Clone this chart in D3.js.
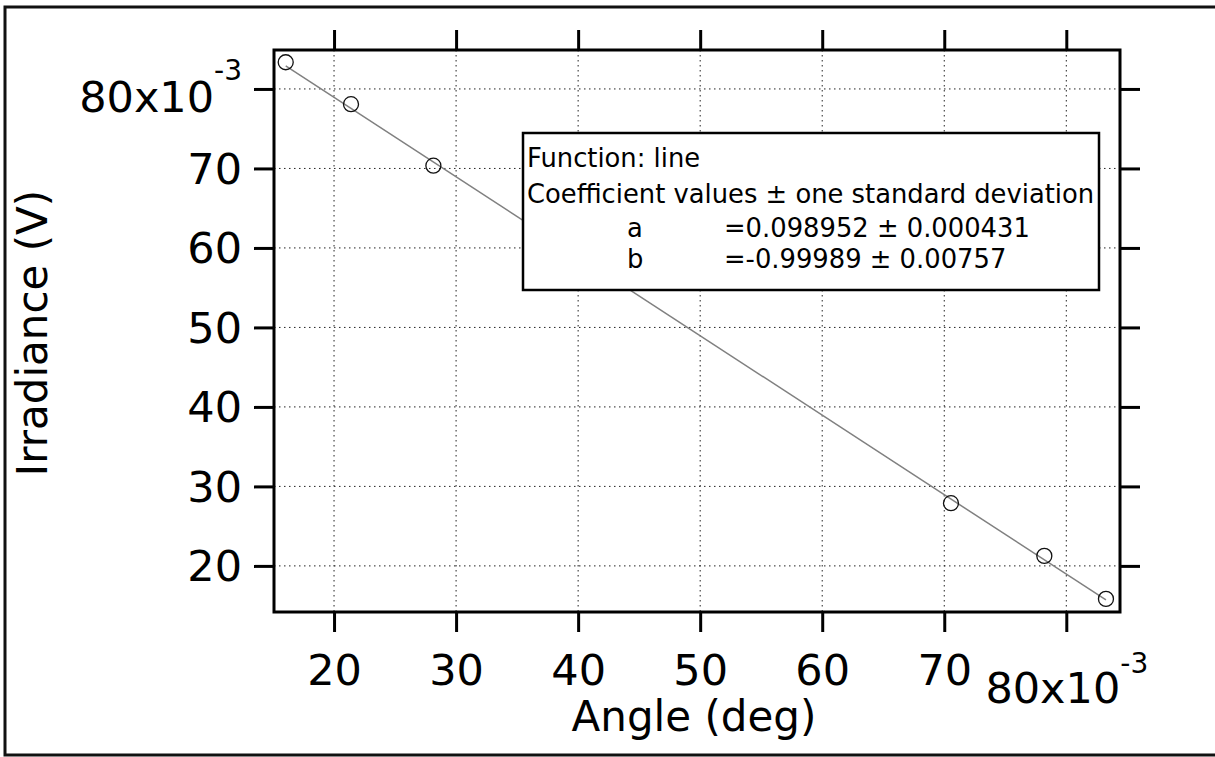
<!DOCTYPE html>
<html>
<head>
<meta charset="utf-8">
<script src="https://cdn.jsdelivr.net/npm/d3@7"></script>
<style>
  body { margin: 0; background: #fff; }
  svg { display: block; font-family: "DejaVu Sans", sans-serif; }
</style>
</head>
<body>
<div id="chart"></div>
<script>
// measured points (angle, irradiance), both in units of 1
const angle = [0.01604, 0.02139, 0.02814, 0.07055, 0.07820, 0.08325];
const irradiance = [0.08336, 0.07808, 0.07035, 0.02789, 0.02126, 0.01585];

// line fit coefficients shown in the box
const fitNames = ["a", "b"];
const fitValues = [0.098952, -0.99989];
const fitErrors = ["0.000431", "0.00757"];
const fitText = ["=0.098952", "=-0.99989"];

const xTicks = [0.02, 0.03, 0.04, 0.05, 0.06, 0.07, 0.08];
const yTicks = [0.02, 0.03, 0.04, 0.05, 0.06, 0.07, 0.08];

const width = 1215, height = 757;
const plot = { left: 274, right: 1120, top: 50, bottom: 612 };

const svg = d3.select("#chart").append("svg")
  .attr("width", width)
  .attr("height", height);

// outer frame (no right side)
svg.append("path")
  .attr("d", `M${width},7 H5 V755 H${width}`)
  .attr("fill", "none")
  .attr("stroke", "#111")
  .attr("stroke-width", 3);

const x = d3.scaleLinear()
  .domain([0.01508, 0.0844])
  .range([plot.left, plot.right]);

const y = d3.scaleLinear()
  .domain([0.0142, 0.0849])
  .range([plot.bottom, plot.top]);

// grid
const grid = svg.append("g")
  .attr("stroke", "#222")
  .attr("stroke-width", 1)
  .attr("stroke-dasharray", "1.5,3.5");

grid.selectAll(".vgrid")
  .data(xTicks)
  .join("line")
  .attr("class", "vgrid")
  .attr("x1", d => x(d)).attr("x2", d => x(d))
  .attr("y1", plot.top).attr("y2", plot.bottom);

grid.selectAll(".hgrid")
  .data(yTicks)
  .join("line")
  .attr("class", "hgrid")
  .attr("y1", d => y(d)).attr("y2", d => y(d))
  .attr("x1", plot.left).attr("x2", plot.right);

// fit line
const xExt = d3.extent(angle);
const fitLine = d3.line()
  .x(d => x(d))
  .y(d => y(fitValues[0] + fitValues[1] * d));

svg.append("path")
  .datum(xExt)
  .attr("d", fitLine)
  .attr("fill", "none")
  .attr("stroke", "#808080")
  .attr("stroke-width", 1.5);

// points
svg.selectAll(".pt")
  .data(angle)
  .join("circle")
  .attr("class", "pt")
  .attr("cx", d => x(d))
  .attr("cy", (d, i) => y(irradiance[i]))
  .attr("r", 7.5)
  .attr("fill", "none")
  .attr("stroke", "#111")
  .attr("stroke-width", 1.3);

// plot frame
svg.append("rect")
  .attr("x", plot.left).attr("y", plot.top)
  .attr("width", plot.right - plot.left)
  .attr("height", plot.bottom - plot.top)
  .attr("fill", "none")
  .attr("stroke", "#000")
  .attr("stroke-width", 3);

// axes
const fmt = d => Math.round(d * 1000);

function styleAxis(g) {
  g.select(".domain").remove();
  g.selectAll(".tick line").attr("stroke", "#000").attr("stroke-width", 3);
  g.selectAll(".tick text")
    .attr("fill", "#000")
    .attr("font-size", 43)
    .attr("font-family", "DejaVu Sans, sans-serif");
}

const xAxisG = svg.append("g")
  .attr("transform", `translate(0,${plot.bottom})`)
  .call(d3.axisBottom(x).tickValues(xTicks).tickFormat(fmt).tickSize(20).tickSizeOuter(0))
  .call(styleAxis);
xAxisG.selectAll(".tick text").attr("y", 73).attr("dy", 0);

svg.append("g")
  .attr("transform", `translate(0,${plot.top})`)
  .call(d3.axisTop(x).tickValues(xTicks).tickFormat("").tickSize(20).tickSizeOuter(0))
  .call(styleAxis);

const yAxisG = svg.append("g")
  .attr("transform", `translate(${plot.left},0)`)
  .call(d3.axisLeft(y).tickValues(yTicks).tickFormat(fmt).tickSize(20).tickSizeOuter(0))
  .call(styleAxis);
yAxisG.selectAll(".tick text").attr("x", -32).attr("dy", 15);

svg.append("g")
  .attr("transform", `translate(${plot.right},0)`)
  .call(d3.axisRight(y).tickValues(yTicks).tickFormat("").tickSize(20).tickSizeOuter(0))
  .call(styleAxis);

// last tick labels carry the exponent
function expLabel(sel, supDy) {
  sel.text(null);
  sel.append("tspan").text("80x10");
  sel.append("tspan").attr("font-size", 28).attr("dy", supDy).text("-3");
}
xAxisG.selectAll(".tick text").filter(d => d === 0.08)
  .attr("y", 91)
  .call(expLabel, -30);
yAxisG.selectAll(".tick text").filter(d => d === 0.08)
  .attr("dy", 23)
  .call(expLabel, -32);

// axis titles
svg.append("text")
  .attr("transform", "translate(47,333) rotate(-90)")
  .attr("text-anchor", "middle")
  .attr("font-size", 42)
  .text("Irradiance (V)");

svg.append("text")
  .attr("x", 694)
  .attr("y", 731)
  .attr("text-anchor", "middle")
  .attr("font-size", 42)
  .text("Angle (deg)");

// fit results box
const box = svg.append("g");
box.append("rect")
  .attr("x", 523).attr("y", 133)
  .attr("width", 576).attr("height", 157)
  .attr("fill", "#fff")
  .attr("stroke", "#000")
  .attr("stroke-width", 2.5);

const boxText = box.append("g").attr("font-size", 25.8).attr("fill", "#000");
boxText.append("text").attr("x", 527).attr("y", 167).text("Function: line");
boxText.append("text").attr("x", 527).attr("y", 203).text("Coefficient values \u00b1 one standard deviation");
fitNames.forEach((n, i) => {
  const yy = 237 + i * 31;
  boxText.append("text").attr("x", 627).attr("y", yy).text(n);
  boxText.append("text").attr("x", 724).attr("y", yy).text(`${fitText[i]} \u00b1 ${fitErrors[i]}`);
});
</script>
</body>
</html>
